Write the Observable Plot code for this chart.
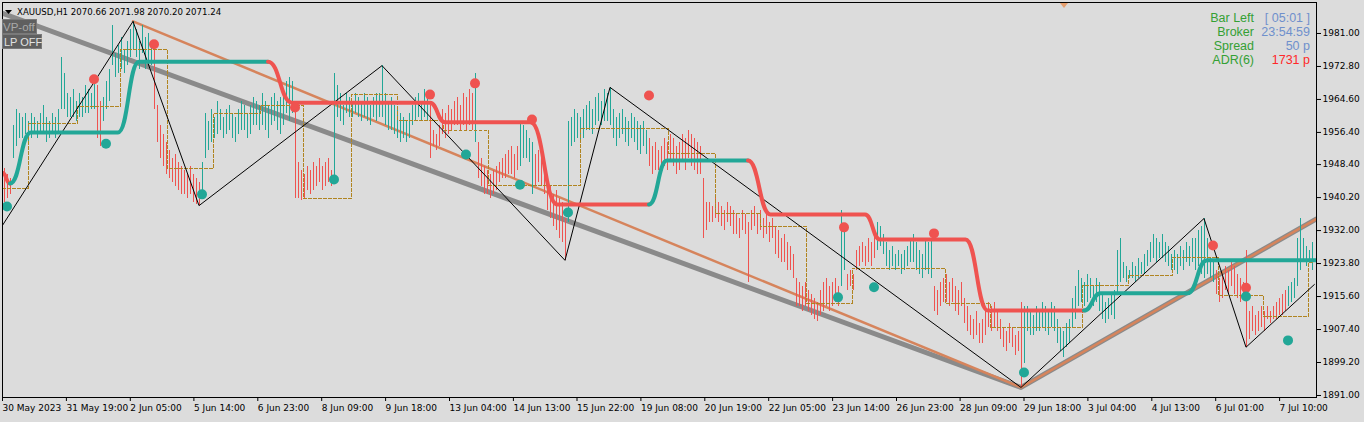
<!DOCTYPE html>
<html><head><meta charset="utf-8">
<script src="https://cdn.jsdelivr.net/npm/d3@7"></script>
<script src="https://cdn.jsdelivr.net/npm/@observablehq/plot@0.6"></script>
<style>
body{margin:0;background:#dcdcdc;}
#wrap{position:relative;width:1364px;height:422px;overflow:hidden;background:#dcdcdc;}
#wrap svg{display:block}
#over{position:absolute;left:0;top:0;pointer-events:none}
</style></head><body><div id="wrap"></div>
<script>
// ---- hourly bars (bar index order), prices in USD ----
const highs = [
1947.5,1946,1945,1958,1962,1961,1960,1961,1959,1961,
1960,1959,1961,1963,1960,1959,1961,1960,1962,1975,
1971,1966,1965,1967,1964,1966,1965,1968,1967,1966,
1969,1968,1964,1965,1969,1972,1983,1976,1978,1980,
1977,1979,1982,1984,1982,1979,1983,1980,1981,1979,
1978,1963,1958,1956,1954,1952,1950,1951,1949,1948,
1947,1946,1948,1946,1945,1944,1949,1961,1959,1962,
1960,1964,1962,1960,1962,1963,1961,1960,1962,1964,
1963,1961,1963,1965,1964,1963,1966,1964,1963,1965,
1966,1964,1965,1967,1969,1970,1969,1963,1949,1947,
1946,1948,1947,1949,1948,1950,1948,1949,1950,1947,
1971,1968,1966,1963,1966,1965,1964,1966,1965,1964,
1966,1965,1963,1965,1966,1966,1973,1966,1964,1965,
1963,1962,1961,1960,1959,1961,1963,1965,1966,1964,
1967,1965,1963,1957,1956,1958,1962,1961,1963,1962,
1964,1965,1963,1966,1965,1967,1966,1971,1954,1950,
1948,1947,1946,1947,1948,1949,1950,1951,1952,1953,
1951,1953,1959,1958,1957,1955,1954,1951,1952,1950,
1949,1945,1943,1941,1942,1940,1939,1935,1959,1960,
1962,1961,1960,1962,1963,1964,1962,1965,1966,1964,
1967,1966,1967.6,1962,1960,1961,1962,1960,1959,1961,
1960,1959,1958,1959,1957,1955,1953,1954,1952,1953,
1955,1954,1956,1955,1953,1954,1956,1955,1957,1956,
1955,1954,1953,1945,1939,1939,1938,1940,1939,1938,
1937,1939,1938,1937,1936,1935,1937,1936,1934,1937,
1938,1936,1937,1935,1936,1934,1935,1933,1932,1930,
1931,1929,1928,1926,1920,1919,1918,1919,1917,1916,
1915,1914,1917,1919,1920,1918,1919,1920,1918,1937,
1933,1921,1922,1921,1927,1928,1929,1928,1930,1929,
1931,1934,1933,1931,1929,1927,1928,1926,1927,1926,
1927,1928,1930,1931,1929,1927,1926,1930,1929,1930,
1918,1917,1919,1920,1921,1919,1920,1918,1917,1919,
1915,1913,1911,1910,1912,1909,1910,1912,1914,1913,
1914,1912,1910,1908,1907,1909,1908,1906,1907,1914,
1913,1913,1912,1911,1913,1912,1914,1913,1912,1914,
1913,1910,1908,1907,1909,1910,1915,1918,1922,1920,
1919,1921,1920,1918,1920,1919,1916,1914,1915,1916,
1917,1927,1930,1924,1923,1922,1924,1923,1925,1924,
1926,1927,1929,1931,1930,1929,1931,1929,1928,1926,
1927,1926,1928,1927,1929,1928,1930,1930,1932,1933,
1935,1930,1925,1924,1922,1920,1921,1923,1922,1924,
1923,1921,1920,1919,1927,1912,1913,1911,1912,1913,
1912,1913,1912,1913,1914,1915,1916,1917,1918,1919,
1920,1930,1935,1930,1928,1927,1929];
const lows = [
1939,1940,1941,1950,1953,1955,1955,1956,1954,1955,
1956,1955,1956,1956,1954,1955,1956,1955,1956,1962,
1962,1960,1960,1960,1959,1960,1960,1961,1961,1962,
1962,1955,1953,1959,1962,1964,1973,1970,1971,1972,
1971,1973,1975,1977,1975,1972,1976,1972,1974,1973,
1962,1954,1950,1948,1946,1945,1944,1943,1942,1941,
1941,1940,1941,1939,1938.5,1938.2,1940,1950,1952,1954,
1955,1956,1957,1955,1956,1957,1955,1954,1956,1957,
1957,1955,1956,1958,1958,1957,1958,1957,1955,1958,
1959,1957,1956,1958,1961,1959,1961,1940,1940,1939.5,
1940,1942,1941,1942,1943,1944,1942,1943,1944,1943,
1945,1960,1959,1958,1961,1960,1960,1961,1960,1959,
1960,1959,1958,1960,1959,1960,1960,1958,1957,1957,
1956,1955,1954,1955,1954,1955,1958,1959,1960,1959,
1960,1959,1950,1953,1952,1953,1956,1955,1956,1957,
1958,1958,1957,1958,1957,1958,1957,1954,1945,1943,
1941,1941,1940,1941,1942,1944,1945,1945,1946,1946,
1945,1947,1948,1950,1950,1949,1941,1943,1944,1943,
1941,1937,1935,1933,1932,1930,1929,1924.6,1934,1953,
1954,1955,1954,1955,1957,1957,1956,1958,1959,1958,
1959,1959,1958,1955,1953,1955,1956,1954,1953,1955,
1954,1952,1951,1953,1951,1948,1946,1947,1947,1946,
1948,1947,1949,1948,1946,1947,1949,1947,1950,1948,
1947,1946,1946,1930,1932,1934,1934,1935,1934,1933,
1932,1934,1933,1931,1931,1930,1932,1931,1919,1932,
1933,1931,1932,1930,1931,1929,1930,1926,1925,1924,
1924,1922,1922,1920,1913,1913,1912,1913,1912,1911,
1910,1909.5,1911,1912,1913,1912,1913,1914,1913,1918,
1922,1917,1918,1917,1922,1923,1924,1923,1924,1923,
1925,1927,1928,1926,1923,1922,1923,1922,1923,1921,
1922,1923,1924,1924,1922,1921,1920,1922,1921,1920,
1912,1911,1913,1914,1914,1913,1914,1912,1911,1913,
1909,1907,1906,1905,1906,1904,1904,1906,1908,1907,
1908,1907,1905,1903,1902,1904,1903,1901,1902,1893,
1899,1907,1906,1906,1907,1907,1908,1907,1906,1908,
1907,1904,1902,1900.5,1903,1904,1908,1910,1913,1914,
1913,1914,1915,1913,1914,1912,1910,1909,1910,1911,
1910,1916,1919,1920,1919,1920,1920,1919,1920,1921,
1921,1923,1924,1925,1924,1925,1925,1924,1923,1922,
1922,1921,1923,1922,1924,1923,1924,1922,1923,1921,
1920,1921,1920,1919,1916,1914,1915,1917,1916,1918,
1916,1915,1914,1915,1903,1905,1907,1906,1907,1908,
1907,1910,1909,1910,1910,1911,1911,1912,1913,1914,
1915,1918,1922,1924,1923,1924,1922];
// bar colour runs: [last bar index of run, side]
const dirRunEnds  = [2,30,32,49,65,96,109,141,156,157,171,176,187,214,278,280,290,309,339,403,427,436];
const dirRunSides = ["dn","up","dn","up","dn","up","dn","up","dn","up","dn","up","dn","up","dn","up","dn","up","dn","up","dn","up"];

// zigzag swing points
const zigBars   = [-0.5, 43, 65, 126, 187, 202, 339, 400, 414, 436.8];
const zigPrices = [1933.3, 1984, 1938.2, 1973, 1924.6, 1967.6, 1893, 1935, 1903, 1918.6];

// trend (stop) line levels; side = colour of the segment starting at that point
const trendBars   = [-0.5, 2, 9, 38, 45, 88, 96, 142, 147, 175.5, 184.5, 215, 221, 248, 255.5, 287, 292, 320.5, 328, 360, 365.5, 394.5, 401, 437.5];
const trendPrices = [1946.4, 1943.7, 1956.4, 1956.4, 1974, 1974, 1963.8, 1963.8, 1958.9, 1958.9, 1938.5, 1938.5, 1949.4, 1949.4, 1936, 1936, 1929.8, 1929.8, 1912.1, 1912.1, 1916.4, 1916.4, 1924.6, 1924.6];
const trendSides  = ["dn","up","up","up","up","dn","dn","dn","dn","dn","dn","up","up","dn","dn","dn","dn","dn","dn","up","up","up","up","up"];

// dashed step levels
const stepBars   = [-0.5, 8.2, 24.5, 38.8, 54.5, 69.8, 85.5, 99.8, 115.8, 131.2, 146.5, 161.5, 192.2, 221.5, 237.2, 252.2, 267.5, 282.8, 313.8, 328.8, 359.5, 374.8, 389.5, 404.8, 419.8, 434.8, 436.5];
const stepPrices = [1942.5, 1958.6, 1962.8, 1977.0, 1947.4, 1961.1, 1963.1, 1940.0, 1965.8, 1959.4, 1956.9, 1943.2, 1957.4, 1951.2, 1936.3, 1933.0, 1913.9, 1922.6, 1913.9, 1907.9, 1918.3, 1920.8, 1925.3, 1915.9, 1910.6, 1924.1, 1924.1];

// trendlines
const grayBars = [-1.2, 339, 437.5];
const grayPrices = [1986.2, 1893, 1934.9];
const orangeBars = [43, 339, 437.5];
const orangePrices = [1984, 1893, 1934.9];

// signal dots
const redDotBars   = [30, 50, 97, 142, 157, 176, 215, 280, 310, 403, 414];
const redDotPrices = [1969.6, 1978.3, 1962.6, 1965.8, 1968.6, 1959.6, 1965.6, 1932.8, 1931.3, 1928.3, 1917.8];
const tealDotBars   = [1, 34, 66, 110, 154, 172, 188, 278, 290, 340, 414, 428];
const tealDotPrices = [1938.0, 1953.6, 1941.0, 1944.7, 1950.9, 1943.4, 1936.5, 1915.4, 1917.9, 1896.7, 1915.6, 1904.7];

// axes
const xTickLabels = ["30 May 2023","31 May 19:00","2 Jun 05:00","5 Jun 14:00","6 Jun 23:00","8 Jun 09:00","9 Jun 18:00","13 Jun 04:00","14 Jun 13:00","15 Jun 22:00","19 Jun 08:00","20 Jun 19:00","22 Jun 05:00","23 Jun 14:00","26 Jun 23:00","28 Jun 09:00","29 Jun 18:00","3 Jul 04:00","4 Jul 13:00","6 Jul 01:00","7 Jul 10:00"];
const xTickBars = [-0.5,20.8,42.1,63.3,84.6,105.9,127.2,148.5,169.8,191.0,212.3,233.6,254.9,276.2,297.5,318.7,340.0,361.3,382.6,403.9,425.2];
const yTicks = [1981.00,1972.80,1964.60,1956.40,1948.40,1940.20,1932.00,1923.80,1915.60,1907.40,1899.20,1891.00];

const UP = "#22a797", DN = "#ef5350";
const sideColor = s => s === "up" ? UP : DN;

function dirOf(i){ for (let k=0;k<dirRunEnds.length;k++) if (i<=dirRunEnds[k]) return dirRunSides[k]; return "up"; }
const bars = highs.map((h,i)=>({i, high:h, low:lows[i], c: sideColor(dirOf(i))}));
const zig = zigBars.map((b,k)=>({b, p:zigPrices[k]}));
const trend = trendBars.map((b,k)=>({b, p:trendPrices[k], c: sideColor(trendSides[k])}));
const steps = stepBars.map((b,k)=>({b, p:stepPrices[k]}));
const gray = grayBars.map((b,k)=>({b, p:grayPrices[k]}));
const orange = orangeBars.map((b,k)=>({b, p:orangePrices[k]}));
const redDots = redDotBars.map((b,k)=>({b, p:redDotPrices[k]}));
const tealDots = tealDotBars.map((b,k)=>({b, p:tealDotPrices[k]}));
const xLabelMap = new Map(xTickBars.map((b,k)=>[b, xTickLabels[k]]));

const chart = Plot.plot({
  width: 1364, height: 422,
  marginLeft: 2, marginRight: 48, marginTop: 2, marginBottom: 25,
  style: {background:"#dcdcdc", fontFamily:"DejaVu Sans, sans-serif", fontSize:"9px", color:"#000", overflow:"visible"},
  x: {domain: [-0.5, 437.5]},
  y: {domain: [1890.5, 1988.7]},
  color: {type: "identity"},
  marks: [
    Plot.line(gray, {x:"b", y:"p", stroke:"#8a8a8a", strokeWidth:5, clip:true}),
    Plot.line(orange, {x:"b", y:"p", stroke:"#d6845c", strokeWidth:2.5, clip:true}),
    Plot.ruleX(bars, {x:"i", y1:"low", y2:"high", stroke:"c", strokeWidth:1, shapeRendering:"crispEdges"}),
    Plot.line(steps, {x:"b", y:"p", curve:"step-after", stroke:"#b08420", strokeWidth:1, strokeDasharray:"3,2", shapeRendering:"crispEdges", clip:true}),
    Plot.line(zig, {x:"b", y:"p", stroke:"#000", strokeWidth:1, clip:true}),
    Plot.line(trend, {x:"b", y:"p", z:null, stroke:"c", strokeWidth:4, curve:"bump-x", clip:true}),
    Plot.dot(redDots, {x:"b", y:"p", r:5, fill:DN, stroke:null}),
    Plot.dot(tealDots, {x:"b", y:"p", r:5, fill:UP, stroke:null}),
    Plot.frame({stroke:"#000", strokeWidth:1}),
    Plot.axisX({ticks: xTickBars, tickFormat: d => xLabelMap.get(d), tickSize:4, tickPadding:3, textAnchor:"start", dx:0, label:null, anchor:"bottom"}),
    Plot.axisY({ticks: yTicks, tickFormat: d => d.toFixed(2), anchor:"right", tickSize:4, tickPadding:2, label:null})
  ]
});
const wrap = document.getElementById("wrap");
wrap.appendChild(chart);

// overlay text (header, buttons, info panel)
const NS = "http://www.w3.org/2000/svg";
const over = document.createElementNS(NS, "svg");
over.setAttribute("id","over"); over.setAttribute("width","1364"); over.setAttribute("height","422");
function el(tag, attrs, text){ const e=document.createElementNS(NS,tag); for(const k in attrs) e.setAttribute(k, attrs[k]); if(text!=null) e.textContent=text; over.appendChild(e); return e; }
el("polygon",{points:"5,10 12,10 8.5,14", fill:"#000"});
el("text",{x:17, y:15, "font-family":"DejaVu Sans, sans-serif", "font-size":"8.6px", fill:"#000", "xml:space":"preserve"}, "XAUUSD,H1  2070.66 2071.98 2070.20 2071.24");
el("rect",{x:2.5, y:19.5, width:34, height:14, fill:"#5f5f5f", stroke:"#7a7a7a"});
el("text",{x:3, y:31, "font-family":"Liberation Sans, Arial, sans-serif", "font-size":"11.5px", fill:"#a9a9a9"}, "VP-off");
el("rect",{x:2.5, y:34.5, width:39, height:14, fill:"#5f5f5f", stroke:"#7a7a7a"});
el("text",{x:4, y:46, "font-family":"Liberation Sans, Arial, sans-serif", "font-size":"11px", fill:"#e2e2e2"}, "LP OFF");
el("polygon",{points:"1060,3 1068,3 1064,8", fill:"#e6a070"});
const infoLabels = ["Bar Left","Broker","Spread","ADR(6)"];
const infoValues = ["[ 05:01 ]","23:54:59","50 p","1731 p"];
const infoValueColors = ["#6f90cc","#6f90cc","#6f90cc","#ff2828"];
infoLabels.forEach((t,k)=>{
  el("text",{x:1254, y:22+14*k, "text-anchor":"end", "font-family":"Liberation Sans, Arial, sans-serif", "font-size":"12.5px", fill:"#34a034"}, t);
  el("text",{x:1310, y:22+14*k, "text-anchor":"end", "font-family":"Liberation Sans, Arial, sans-serif", "font-size":"12.5px", fill:infoValueColors[k], "xml:space":"preserve"}, infoValues[k]);
});
wrap.appendChild(over);
</script></body></html>
